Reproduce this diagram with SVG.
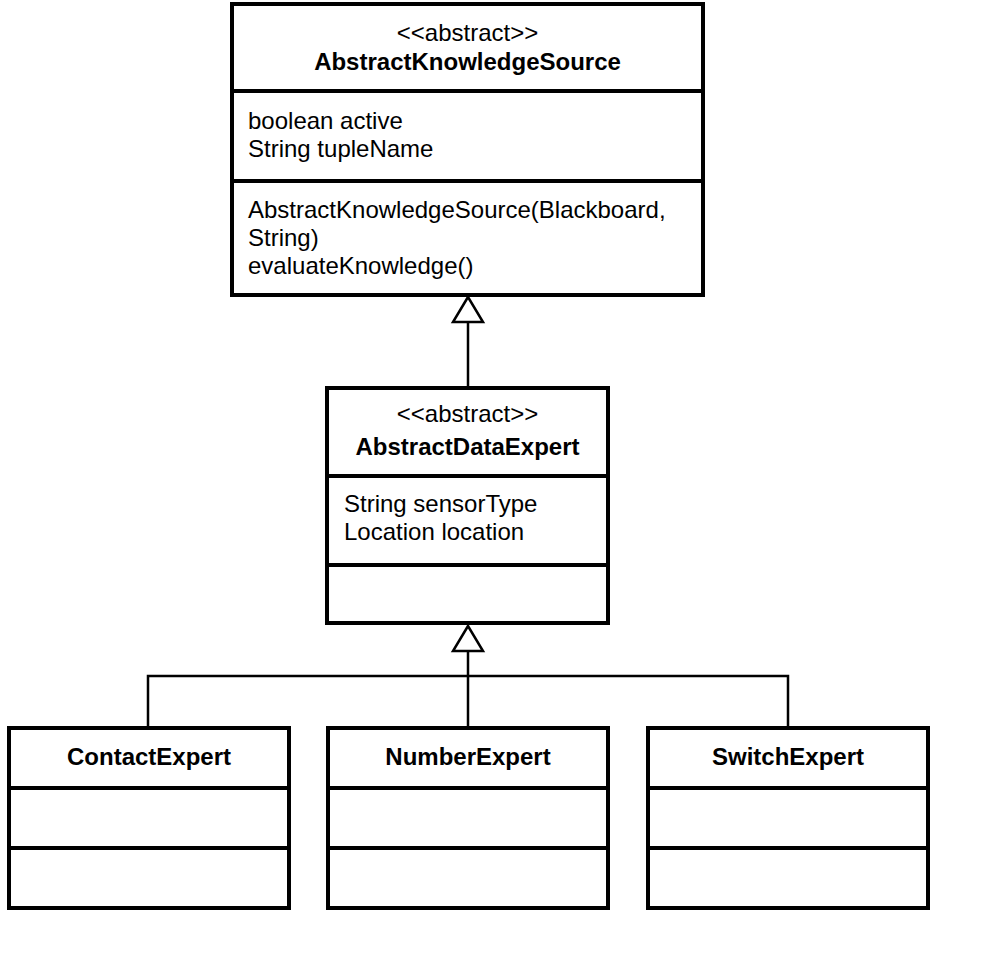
<svg xmlns="http://www.w3.org/2000/svg" width="983" height="964" viewBox="0 0 983 964">
  <style>
    .box { fill: #ffffff; stroke: #000000; stroke-width: 4; }
    .div { stroke: #000000; stroke-width: 4; }
    .edge { fill: none; stroke: #000000; stroke-width: 2.5; }
    .head { fill: #ffffff; stroke: #000000; stroke-width: 2.5; stroke-linejoin: miter; }
    text { font-family: "Liberation Sans", Arial, sans-serif; font-size: 24px; fill: #000000; }
    .c { text-anchor: middle; }
    .b { font-weight: bold; }
  </style>
  <rect width="983" height="964" fill="#ffffff"/>

  <!-- generalization connectors -->
  <g id="connectors">
    <line class="edge" x1="468" y1="322" x2="468" y2="388"/>
    <polygon class="head" points="468,297 453,322 483,322"/>
    <polyline class="edge" points="148,727 148,676 788,676 788,727"/>
    <line class="edge" x1="468" y1="651" x2="468" y2="727"/>
    <polygon class="head" points="468,626 453,651 483,651"/>
  </g>

  <g id="AbstractKnowledgeSource">
    <rect class="box" x="232" y="4" width="471" height="291"/>
    <line class="div" x1="232" y1="91" x2="703" y2="91"/>
    <line class="div" x1="232" y1="181" x2="703" y2="181"/>
    <text class="c" x="467.5" y="41">&lt;&lt;abstract&gt;&gt;</text>
    <text class="c b" x="467.5" y="70">AbstractKnowledgeSource</text>
    <text x="248" y="129">boolean active</text>
    <text x="248" y="157">String tupleName</text>
    <text x="248" y="218">AbstractKnowledgeSource(Blackboard,</text>
    <text x="248" y="246">String)</text>
    <text x="248" y="274">evaluateKnowledge()</text>
  </g>

  <g id="AbstractDataExpert">
    <rect class="box" x="327" y="388" width="281" height="235"/>
    <line class="div" x1="327" y1="476" x2="608" y2="476"/>
    <line class="div" x1="327" y1="565" x2="608" y2="565"/>
    <text class="c" x="467.5" y="422">&lt;&lt;abstract&gt;&gt;</text>
    <text class="c b" x="467.5" y="455">AbstractDataExpert</text>
    <text x="344" y="512">String sensorType</text>
    <text x="344" y="540">Location location</text>
  </g>

  <g id="ContactExpert">
    <rect class="box" x="9" y="728" width="280" height="180"/>
    <line class="div" x1="9" y1="788" x2="289" y2="788"/>
    <line class="div" x1="9" y1="848" x2="289" y2="848"/>
    <text class="c b" x="149" y="765">ContactExpert</text>
  </g>

  <g id="NumberExpert">
    <rect class="box" x="328" y="728" width="280" height="180"/>
    <line class="div" x1="328" y1="788" x2="608" y2="788"/>
    <line class="div" x1="328" y1="848" x2="608" y2="848"/>
    <text class="c b" x="468" y="765">NumberExpert</text>
  </g>

  <g id="SwitchExpert">
    <rect class="box" x="648" y="728" width="280" height="180"/>
    <line class="div" x1="648" y1="788" x2="928" y2="788"/>
    <line class="div" x1="648" y1="848" x2="928" y2="848"/>
    <text class="c b" x="788" y="765">SwitchExpert</text>
  </g>
</svg>
